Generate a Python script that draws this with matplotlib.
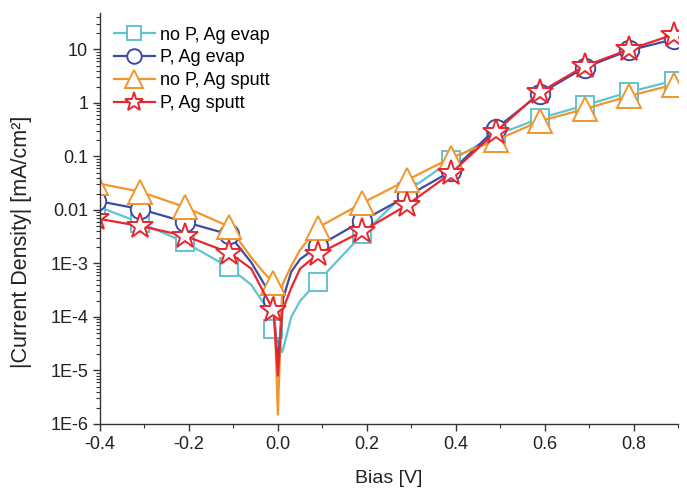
import matplotlib
matplotlib.use('Agg')
import matplotlib.pyplot as plt
from matplotlib.ticker import FixedLocator, LogLocator, NullFormatter

plt.rcParams['font.family'] = ['Liberation Sans', 'DejaVu Sans']

# bias points (extra points around 0 V for the cusp)
bias = [-0.41, -0.31, -0.21, -0.11, -0.06, -0.03, -0.01, 0.0, 0.01, 0.03, 0.05,
        0.09, 0.19, 0.29, 0.39, 0.49, 0.59, 0.69, 0.79, 0.89]
# indices in bias[] that carry a marker
marker_idx = [0, 1, 2, 3, 6, 11, 12, 13, 14, 15, 16, 17, 18, 19]

noP_evap = [0.012, 0.0058, 0.0025, 0.00085, 4e-4, 1.7e-4, 6e-5, 3.5e-5, 2.2e-5, 1e-4, 2e-4,
            4.6e-4, 0.0035, 0.022, 0.085, 0.25, 0.52, 0.9, 1.6, 2.6]
P_evap = [0.015, 0.0104, 0.006, 0.0035, 1.05e-3, 4e-4, 2.1e-4, 1.2e-5, 2e-4, 7e-4, 1.2e-3,
          0.0021, 0.0063, 0.018, 0.053, 0.33, 1.5, 4.6, 9.6, 15.5]
noP_sputt = [0.032, 0.022, 0.0114, 0.0049, 1.3e-3, 6.5e-4, 4.4e-4, 1.5e-6, 4e-4, 9e-4, 1.8e-3,
             0.0047, 0.0135, 0.036, 0.095, 0.2, 0.46, 0.77, 1.35, 2.2]
P_sputt = [0.007, 0.005, 0.0033, 0.0016, 8e-4, 2.7e-4, 1.35e-4, 8e-6, 1.3e-4, 3.5e-4, 8e-4,
           0.0015, 0.004, 0.0123, 0.049, 0.29, 1.6, 4.9, 10, 19]

series = [
    ('no P, Ag evap', noP_evap, '#62C3D0', 's', 13),
    ('P, Ag evap', P_evap, '#3B4BA6', 'o', 14),
    ('no P, Ag sputt', noP_sputt, '#F0962C', '^', 17),
    ('P, Ag sputt', P_sputt, '#E8262E', '*', 19),
]

fig = plt.figure(figsize=(6.87, 4.91), dpi=100)
ax = fig.add_axes([0.1456, 0.1365, 0.8414, 0.837])

for label, vals, col, mk, ms in series:
    ax.plot(bias, vals, color=col, lw=1.6, marker=mk, ms=ms, mfc='white',
            mec=col, mew=1.4, markevery=marker_idx, label=label)

ax.set_yscale('log')
ax.set_xlim(-0.4, 0.9)
ax.set_ylim(1e-6, 48)

ax.set_xticks([-0.4, -0.2, 0.0, 0.2, 0.4, 0.6, 0.8])
ax.set_xticklabels(['-0.4', '-0.2', '0.0', '0.2', '0.4', '0.6', '0.8'])
ax.xaxis.set_minor_locator(FixedLocator([-0.3, -0.1, 0.1, 0.3, 0.5, 0.7, 0.9]))
ax.set_yticks([1e-6, 1e-5, 1e-4, 1e-3, 1e-2, 1e-1, 1, 10])
ax.set_yticklabels(['1E-6', '1E-5', '1E-4', '1E-3', '0.01', '0.1', '1', '10'])
ax.yaxis.set_minor_locator(LogLocator(base=10, subs=range(2, 10), numticks=20))
ax.yaxis.set_minor_formatter(NullFormatter())

ax.tick_params(which='major', direction='out', length=5, width=1, labelsize=13, colors='#333333')
ax.tick_params(which='minor', direction='out', length=3, width=0.8, colors='#333333')
ax.tick_params(axis='both', labelcolor='#222222')

for s in ['top', 'right']:
    ax.spines[s].set_visible(False)
for s in ['left', 'bottom']:
    ax.spines[s].set_color('#333333')
    ax.spines[s].set_linewidth(1.0)

ax.set_xlabel('Bias [V]', fontsize=14, color='#222222')
ax.xaxis.set_label_coords(0.5, -0.112)
ax.set_ylabel('|Current Density| [mA/cm²]', fontsize=15.5, color='#222222')
ax.yaxis.set_label_coords(-0.118, 0.443)

ax.legend(loc='upper left', bbox_to_anchor=(0.0, 1.0), frameon=False, fontsize=13,
          handlelength=2.3, handletextpad=0.25, labelspacing=0.32, borderaxespad=0.35,
          markerscale=0.75)

fig.savefig('out.png', dpi=100)
